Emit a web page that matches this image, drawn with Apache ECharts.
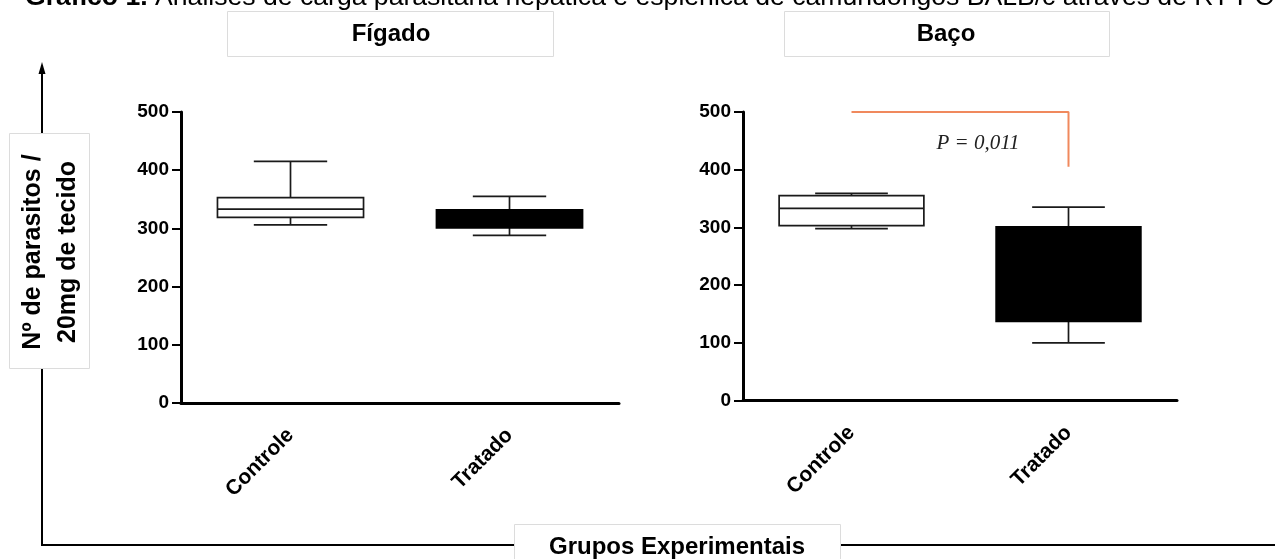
<!DOCTYPE html>
<html>
<head>
<meta charset="utf-8">
<script src="https://cdn.jsdelivr.net/npm/echarts@6/dist/echarts.min.js"></script>
<style>
html,body{margin:0;padding:0;background:#fff;}
#chart{width:1275px;height:559px;}
</style>
</head>
<body>
<div id="chart"></div>
<script>
// ---- data (min, Q1, median, Q3, max) ----
const categories = ['Controle', 'Tratado'];
const figadoControle = [306, 319, 333, 353, 415];
const figadoTratado  = [288, 301, 318, 332, 355];
const bacoControle   = [298, 303, 333, 355, 359];
const bacoTratado    = [100, 137, 220, 301, 335];
const filledFlags    = [0, 1];           // Controle open box, Tratado filled box
const bracketBaco    = [500, 500, 405];   // significance bracket heights
const pText          = 'P = 0,011';
const yMin = 0, yMax = 500, yStep = 100;
const panelTitles = ['Fígado', 'Baço'];

const chart = echarts.init(document.getElementById('chart'), null, {renderer: 'canvas'});

function boxData(a, b) {
  return [
    [0].concat(a, [filledFlags[0]]),
    [1].concat(b, [filledFlags[1]])
  ];
}

function renderBox(params, api) {
  const x = api.value(0);
  const mn = api.coord([x, api.value(1)]);
  const q1 = api.coord([x, api.value(2)]);
  const md = api.coord([x, api.value(3)]);
  const q3 = api.coord([x, api.value(4)]);
  const mx = api.coord([x, api.value(5)]);
  const filled = api.value(6) === 1;
  const band = api.size([1, 0])[0];
  const bw = band * 0.667, cw = band * 0.335;
  const cx = mn[0];
  const stroke = '#1a1a1a', lw = 1.7;
  const ch = [
    {type: 'line', shape: {x1: cx, y1: mx[1], x2: cx, y2: q3[1]}, style: {stroke: stroke, lineWidth: lw}},
    {type: 'line', shape: {x1: cx, y1: q1[1], x2: cx, y2: mn[1]}, style: {stroke: stroke, lineWidth: lw}},
    {type: 'line', shape: {x1: cx - cw / 2, y1: mx[1], x2: cx + cw / 2, y2: mx[1]}, style: {stroke: stroke, lineWidth: lw}},
    {type: 'line', shape: {x1: cx - cw / 2, y1: mn[1], x2: cx + cw / 2, y2: mn[1]}, style: {stroke: stroke, lineWidth: lw}},
    {type: 'rect', shape: {x: cx - bw / 2, y: q3[1], width: bw, height: q1[1] - q3[1]},
     style: {fill: filled ? '#000' : '#fff', stroke: filled ? '#000' : stroke, lineWidth: lw}}
  ];
  if (!filled) {
    ch.push({type: 'line', shape: {x1: cx - bw / 2, y1: md[1], x2: cx + bw / 2, y2: md[1]}, style: {stroke: stroke, lineWidth: lw}});
  }
  return {type: 'group', children: ch};
}

function xAxisCfg(idx) {
  return {
    type: 'category', gridIndex: idx, data: categories, boundaryGap: true,
    axisLine: {lineStyle: {color: '#000', width: 3}},
    axisTick: {alignWithLabel: true, length: 8, lineStyle: {color: '#000', width: 2}},
    axisLabel: {rotate: 45, margin: 29, verticalAlign: 'middle',
      color: '#000', fontFamily: 'Arial', fontWeight: 'bold', fontSize: 21},
    splitLine: {show: false}
  };
}
function yAxisCfg(idx) {
  return {
    type: 'value', gridIndex: idx, min: yMin, max: yMax, interval: yStep,
    axisLine: {show: true, lineStyle: {color: '#000', width: 3}},
    axisTick: {show: true, length: 9, lineStyle: {color: '#000', width: 2}},
    axisLabel: {margin: 12, color: '#000', fontFamily: 'Arial', fontWeight: 'bold', fontSize: 19},
    splitLine: {show: false}
  };
}

const boxStroke = '#dcdcdc';
const option = {
  animation: false,
  backgroundColor: '#fff',
  grid: [
    {left: 181, top: 112, width: 438, height: 291},
    {left: 743, top: 112, width: 434, height: 288.5}
  ],
  xAxis: [xAxisCfg(0), xAxisCfg(1)],
  yAxis: [yAxisCfg(0), yAxisCfg(1)],
  series: [
    {type: 'custom', xAxisIndex: 0, yAxisIndex: 0, renderItem: renderBox,
     encode: {x: 0, y: [1, 2, 3, 4, 5]}, data: boxData(figadoControle, figadoTratado), silent: true},
    {type: 'custom', xAxisIndex: 1, yAxisIndex: 1, renderItem: renderBox,
     encode: {x: 0, y: [1, 2, 3, 4, 5]}, data: boxData(bacoControle, bacoTratado), silent: true},
    {type: 'line', xAxisIndex: 1, yAxisIndex: 1, symbol: 'none', silent: true,
     lineStyle: {color: '#F0895D', width: 2},
     data: [[categories[0], bracketBaco[0]], [categories[1], bracketBaco[1]], [categories[1], bracketBaco[2]]],
     z: 5}
  ],
  graphic: [
    // top caption (cut off at top edge)
    {type: 'text', x: 25, y: -2, z: 10, style: {
      text: '{b|Gráfico 1.} Análises de carga parasitária hepática e esplênica de camundongos BALB/c através de RT-PCR',
      font: '26.6px Arial', fill: '#000', textVerticalAlign: 'middle',
      rich: {b: {font: 'bold 26.6px Arial', fill: '#000'}}
    }},
    // panel titles
    {type: 'rect', shape: {x: 227.5, y: 11.5, width: 326, height: 45}, style: {fill: '#fff', stroke: boxStroke, lineWidth: 1}, z: 10},
    {type: 'text', x: 391, y: 34, z: 11, style: {text: panelTitles[0], font: 'bold 24px Arial', fill: '#000', textAlign: 'center', textVerticalAlign: 'middle'}},
    {type: 'rect', shape: {x: 784.5, y: 11.5, width: 325, height: 45}, style: {fill: '#fff', stroke: boxStroke, lineWidth: 1}, z: 10},
    {type: 'text', x: 946, y: 34, z: 11, style: {text: panelTitles[1], font: 'bold 24px Arial', fill: '#000', textAlign: 'center', textVerticalAlign: 'middle'}},
    // outer axis arrow and baseline
    {type: 'polyline', z: 8, shape: {points: [[42, 72], [42, 545], [1275, 545]]}, style: {stroke: '#000', lineWidth: 2, fill: null}},
    {type: 'polygon', z: 8, shape: {points: [[42, 62], [38.5, 74], [45.5, 74]]}, style: {fill: '#000'}},
    // y title box
    {type: 'rect', z: 10, shape: {x: 9.5, y: 133.5, width: 80, height: 235}, style: {fill: '#fff', stroke: boxStroke, lineWidth: 1}},
    {type: 'text', z: 11, x: 51, y: 252, rotation: Math.PI / 2, style: {
      text: 'Nº de parasitos /\n20mg de tecido', font: 'bold 25px Arial', fill: '#000',
      textAlign: 'center', textVerticalAlign: 'middle', lineHeight: 35}},
    // x title box
    {type: 'rect', z: 10, shape: {x: 514.5, y: 524.5, width: 326, height: 40}, style: {fill: '#fff', stroke: boxStroke, lineWidth: 1}},
    {type: 'text', z: 11, x: 677, y: 547, style: {text: 'Grupos Experimentais', font: 'bold 24px Arial', fill: '#000', textAlign: 'center', textVerticalAlign: 'middle'}},
    // p-value annotation
    {type: 'text', z: 11, x: 978, y: 143, style: {text: pText, font: 'italic 21px "Liberation Serif", "Times New Roman", serif', fill: '#222', textAlign: 'center', textVerticalAlign: 'middle'}}
  ]
};
chart.setOption(option);
</script>
</body>
</html>
